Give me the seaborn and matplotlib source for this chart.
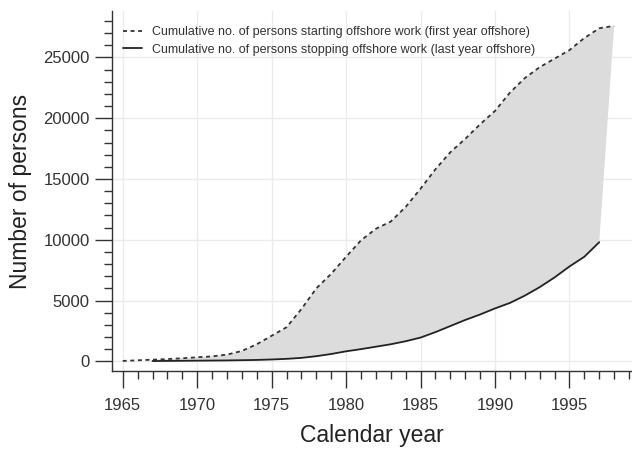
import numpy as np
import pandas as pd
import matplotlib
matplotlib.use("Agg")
import matplotlib.pyplot as plt
import seaborn as sns
from matplotlib.ticker import MultipleLocator

# cumulative persons starting offshore work (first year offshore)
years_start = list(range(1965, 1999))
n_start = [30, 80, 130, 180, 250, 330, 400, 550, 850, 1400,
           2100, 2800, 4300, 6000, 7200, 8600, 9950, 10900, 11500, 12700,
           14200, 15800, 17200, 18300, 19500, 20600, 22100, 23300, 24200, 24900,
           25600, 26600, 27400, 27600]

# cumulative persons stopping offshore work (last year offshore)
years_stop = list(range(1967, 1998))
n_stop = [20, 30, 40, 50, 60, 70, 90, 110, 150, 200,
          280, 420, 600, 820, 1000, 1200, 1400, 1650, 1950, 2400,
          2900, 3400, 3850, 4350, 4800, 5400, 6100, 6900, 7800, 8600,
          9800]

lab_start = "Cumulative no. of persons starting offshore work (first year offshore)"
lab_stop = "Cumulative no. of persons stopping offshore work (last year offshore)"

df_start = pd.DataFrame({"year": years_start, "n": n_start})
df_stop = pd.DataFrame({"year": years_stop, "n": n_stop})

sns.set_style("white")
plt.rcParams["font.family"] = ["Liberation Sans", "DejaVu Sans"]

fig, ax = plt.subplots(figsize=(6.32, 4.5), dpi=100)
fig.subplots_adjust(left=0.177, right=1.0, top=0.975, bottom=0.175)

# shaded area between the two curves
sub = df_start[df_start["year"] >= years_stop[0]]
poly_x = np.concatenate([sub["year"].values, df_stop["year"].values[::-1]])
poly_y = np.concatenate([sub["n"].values, df_stop["n"].values[::-1]])
ax.fill(poly_x, poly_y, color="#dcdcdc", lw=0, zorder=1)

sns.lineplot(data=df_start, x="year", y="n", ax=ax, color="#333333",
             lw=1.3, label=lab_start, zorder=3)
ax.lines[-1].set_dashes([2.2, 2.0])
sns.lineplot(data=df_stop, x="year", y="n", ax=ax, color="#222222",
             lw=1.3, label=lab_stop, zorder=3)

ax.set_xlim(1964.27, 1999.2)
ax.set_ylim(-820, 28800)
ax.xaxis.set_major_locator(MultipleLocator(5))
ax.xaxis.set_minor_locator(MultipleLocator(1))
ax.yaxis.set_major_locator(MultipleLocator(5000))
ax.yaxis.set_minor_locator(MultipleLocator(1000))

ax.grid(True, which="major", color="#ebebeb", lw=1.0, zorder=0)
ax.set_axisbelow(True)
for s in ["top", "right"]:
    ax.spines[s].set_visible(False)
for s in ["left", "bottom"]:
    ax.spines[s].set_color("#333333")
    ax.spines[s].set_linewidth(1.0)

ax.tick_params(which="both", bottom=True, left=True)
ax.tick_params(which="major", direction="out", length=12, width=1.0,
               color="#333333", labelsize=12, labelcolor="#333333", pad=4)
ax.tick_params(axis="x", which="major", pad=7.5)
ax.tick_params(which="minor", direction="out", length=6, width=1.0,
               color="#333333")

ax.set_xlabel("Calendar year", fontsize=16.5, color="#222222", labelpad=8)
ax.set_ylabel("Number of persons", fontsize=16.5, color="#222222", labelpad=8)

leg = ax.legend(loc="upper left", frameon=False, fontsize=9,
                handlelength=1.5, bbox_to_anchor=(0.0, 0.99),
                labelspacing=0.45, handletextpad=0.8)
for t in leg.get_texts():
    t.set_color("#333333")

fig.savefig("out.png", dpi=100)
